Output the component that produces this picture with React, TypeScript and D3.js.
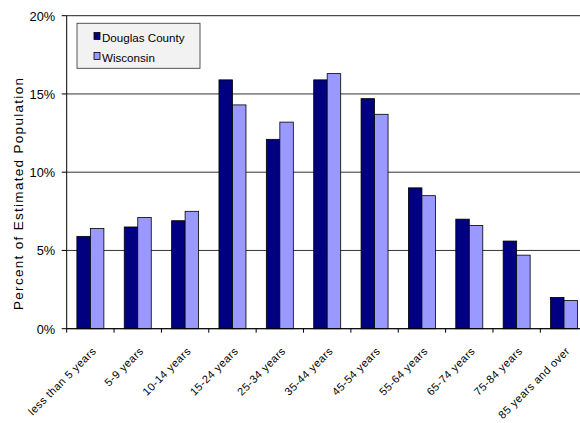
import React from "react";
import * as d3 from "d3";

const categories = [
  "less than 5 years", "5-9 years", "10-14 years", "15-24 years", "25-34 years",
  "35-44 years", "45-54 years", "55-64 years", "65-74 years", "75-84 years", "85 years and over",
];
const douglas = [5.9, 6.5, 6.9, 15.9, 12.1, 15.9, 14.7, 9.0, 7.0, 5.6, 2.0];
const wisconsin = [6.4, 7.1, 7.5, 14.3, 13.2, 16.3, 13.7, 8.5, 6.6, 4.7, 1.8];
const seriesNames = ["Douglas County", "Wisconsin"];
const seriesColors = ["#000080", "#9999ff"];
const yTicks = [0, 5, 10, 15, 20];

export default function App() {
  const W = 580, H = 423;
  const left = 66.7, right = 587.7, top = 15.7, bottom = 328.7;
  const x = d3.scaleBand<string>().domain(categories).range([left, right]).paddingInner(0.43).paddingOuter(0.215);
  const x1 = d3.scaleBand<string>().domain(seriesNames).range([0, x.bandwidth()]);
  const y = d3.scaleLinear().domain([0, 20]).range([bottom, top]);
  const step = (right - left) / categories.length;
  const font = "'Liberation Sans', Arial, sans-serif";
  const data = [douglas, wisconsin];
  return (
    <svg width={W} height={H} style={{ position: "absolute", left: 0, top: 0, display: "block" }} fontFamily={font}>
      <rect width={W} height={H} fill="#fff" />
      {yTicks.map((t) => (
        <g key={t}>
          <line x1={left} x2={right} y1={y(t)} y2={y(t)} stroke={t === 20 ? "#222" : "#333"} strokeWidth={1} />
          <line x1={left - 5} x2={left} y1={y(t)} y2={y(t)} stroke="#000" />
          <text x={left - 11.5} y={y(t) + 4.8} textAnchor="end" fontSize={12.8}>{t}%</text>
        </g>
      ))}
      {categories.map((c, i) => (
        <g key={c}>
          {data.map((s, j) => (
            <rect key={j} x={(x(c) as number) + (x1(seriesNames[j]) as number)} y={y(s[i])}
              width={x1.bandwidth()} height={bottom - y(s[i])} fill={seriesColors[j]} stroke="#000" strokeWidth={0.8} />
          ))}
        </g>
      ))}
      <line x1={left} x2={left} y1={top} y2={bottom} stroke="#000" />
      <line x1={left} x2={right} y1={bottom} y2={bottom} stroke="#000" />
      {categories.map((c, i) => (
        <line key={"t" + i} x1={left + step * i} x2={left + step * i} y1={bottom} y2={bottom + 4} stroke="#000" />
      ))}
      {categories.map((c) => {
        const cx = (x(c) as number) + x.bandwidth() / 2 + 6.5;
        const cy = bottom + 23;
        return (
          <text key={"l" + c} transform={`translate(${cx},${cy}) rotate(-45)`} textAnchor="end" fontSize={11} letterSpacing={0.45}>{c}</text>
        );
      })}
      <text transform={`translate(22.5,194) rotate(-90)`} textAnchor="middle" fontSize={13.5} textLength={232} lengthAdjust="spacing">
        Percent of Estimated Population
      </text>
      <g>
        <rect x={77} y={23.3} width={123} height={45} fill="#f2f2f2" stroke="#444" strokeWidth={0.9} />
        {seriesNames.map((n, j) => (
          <g key={n}>
            <rect x={94} y={32.5 + j * 20} width={6} height={7} fill={seriesColors[j]} stroke="#000" strokeWidth={0.8} />
            <text x={102} y={41.5 + j * 20} fontSize={11.6}>{n}</text>
          </g>
        ))}
      </g>
    </svg>
  );
}
